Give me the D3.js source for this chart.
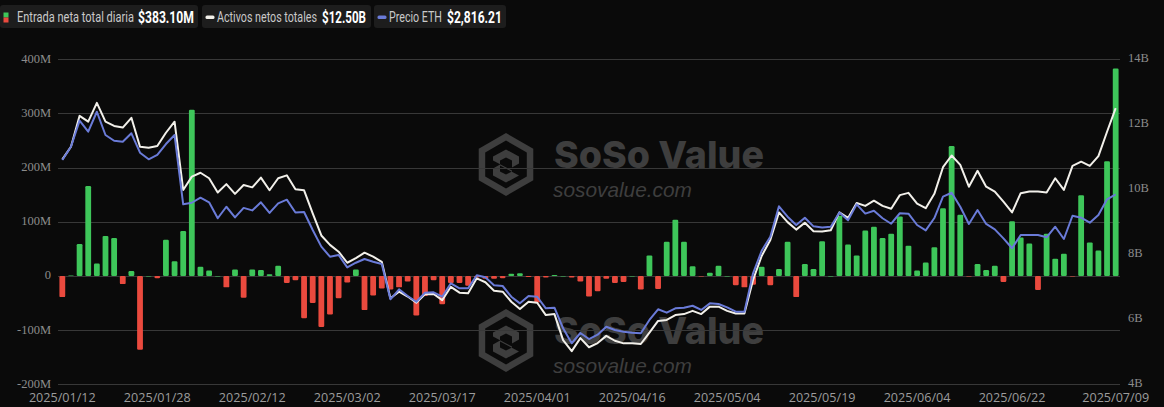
<!DOCTYPE html>
<html>
<head>
<meta charset="utf-8">
<script src="https://cdn.jsdelivr.net/npm/d3@7/dist/d3.min.js"></script>
<style>
  html, body { margin: 0; padding: 0; background: #0a0a0a; }
  svg { display: block; }
</style>
</head>
<body>
<div id="chart"></div>
<script>
// ---------------- DATA ----------------
const dates = [
"2025/01/12","2025/01/13","2025/01/14","2025/01/15","2025/01/16","2025/01/20","2025/01/21","2025/01/22","2025/01/23","2025/01/26","2025/01/27","2025/01/28","2025/01/29","2025/01/30",
"2025/02/02","2025/02/03","2025/02/04","2025/02/05","2025/02/06","2025/02/09","2025/02/10","2025/02/11","2025/02/12","2025/02/13","2025/02/17","2025/02/18","2025/02/19","2025/02/20","2025/02/23","2025/02/24","2025/02/25","2025/02/26","2025/02/27",
"2025/03/02","2025/03/03","2025/03/04","2025/03/05","2025/03/06","2025/03/09","2025/03/10","2025/03/11","2025/03/12","2025/03/13","2025/03/16","2025/03/17","2025/03/18","2025/03/19","2025/03/20","2025/03/23","2025/03/24","2025/03/25","2025/03/26","2025/03/27","2025/03/30",
"2025/03/31","2025/04/01","2025/04/02","2025/04/03","2025/04/06","2025/04/07","2025/04/08","2025/04/09","2025/04/10","2025/04/13","2025/04/14","2025/04/15","2025/04/16","2025/04/20","2025/04/21","2025/04/22","2025/04/23","2025/04/24","2025/04/27","2025/04/28","2025/04/29",
"2025/04/30","2025/05/01","2025/05/04","2025/05/05","2025/05/06","2025/05/07","2025/05/08","2025/05/11","2025/05/12","2025/05/13","2025/05/14","2025/05/15","2025/05/18","2025/05/19","2025/05/20","2025/05/21","2025/05/22","2025/05/26","2025/05/27","2025/05/28","2025/05/29",
"2025/06/01","2025/06/02","2025/06/03","2025/06/04","2025/06/05","2025/06/08","2025/06/09","2025/06/10","2025/06/11","2025/06/12","2025/06/15","2025/06/16","2025/06/17","2025/06/19","2025/06/22","2025/06/23","2025/06/24","2025/06/25","2025/06/26","2025/06/29",
"2025/06/30","2025/07/01","2025/07/02","2025/07/06","2025/07/07","2025/07/08","2025/07/09"
];

// Daily total net inflow, millions USD
const netInflow = [
-39, 1, 59, 166, 23, 74, 70, -15, 9, -136,
0, -4, 67, 27, 83, 307, 17, 10, 0, -21,
12, -40, 12, 11, 3, 19, -13, -8, -78, -50,
-94, -71, -41, -12, 12, -63, -36, -23, -25, -21,
-10, -73, -37, -8, -52, -13, -13, -18, -3, -5,
-5, -4, 4, 5, -2, -49, -3, 2, 0, -3,
-10, -38, -28, -5, -13, -11, 0, -25, 38, -24,
63, 104, 63, 18, -1, 6, 19, 0, -17, -21,
-16, 17, -17, 13, 63, -39, 22, 13, 64, 0,
111, 58, 38, 84, 91, 70, 78, 110, 56, 10,
25, 53, 125, 240, 113, -1, 22, 11, 19, -11,
101, 71, 60, -26, 78, 32, 41, -1, 149, 62,
47, 212, 383.1
];

// Total net assets, billions USD
const netAssets = [
10.92, 11.31, 12.26, 12.08, 12.66, 12.08, 11.95, 11.90, 12.20, 11.31,
11.28, 11.33, 11.74, 12.08, 9.98, 10.39, 10.51, 10.34, 9.90, 10.16,
9.86, 10.13, 10.06, 10.36, 9.97, 10.34, 10.43, 10.00, 9.97, 9.26,
8.58, 8.29, 8.08, 7.74, 7.88, 8.05, 7.93, 7.77, 6.65, 6.85,
6.70, 6.51, 6.77, 6.78, 6.59, 7.00, 6.82, 6.80, 7.26, 7.14,
6.88, 6.85, 6.54, 6.32, 6.54, 6.51, 6.13, 6.16, 5.36, 5.02,
5.42, 5.14, 5.27, 5.49, 5.34, 5.26, 5.26, 5.24, 5.59, 5.95,
5.98, 6.13, 6.16, 6.26, 6.16, 6.39, 6.39, 6.26, 6.18, 6.18,
7.21, 7.95, 8.44, 9.29, 8.99, 8.76, 8.97, 8.71, 8.70, 8.74,
9.29, 9.12, 9.58, 9.49, 9.65, 9.49, 9.40, 9.82, 9.89, 9.56,
9.42, 9.86, 10.68, 11.04, 10.75, 10.08, 10.57, 10.08, 9.93, 9.62,
9.29, 9.88, 9.93, 9.93, 9.90, 10.34, 9.98, 10.72, 10.85, 10.72,
11.02, 11.77, 12.50
];

// ETH price, USD
const ethPrice = [
3117, 3233, 3462, 3365, 3540, 3336, 3286, 3277, 3351, 3181,
3123, 3161, 3257, 3336, 2728, 2742, 2786, 2746, 2606, 2707,
2614, 2697, 2675, 2746, 2653, 2737, 2769, 2657, 2661, 2503,
2357, 2269, 2284, 2175, 2216, 2249, 2225, 2205, 1895, 1983,
1924, 1874, 1953, 1957, 1918, 2036, 1992, 1992, 2106, 2088,
2018, 2012, 1918, 1860, 1924, 1918, 1816, 1822, 1641, 1510,
1600, 1547, 1585, 1655, 1626, 1611, 1602, 1597, 1714, 1808,
1778, 1816, 1822, 1839, 1802, 1860, 1854, 1825, 1787, 1787,
2123, 2321, 2444, 2711, 2620, 2547, 2610, 2535, 2525, 2532,
2657, 2588, 2728, 2647, 2672, 2606, 2558, 2650, 2646, 2547,
2500, 2608, 2795, 2830, 2707, 2556, 2678, 2556, 2509, 2430,
2343, 2459, 2459, 2459, 2439, 2532, 2424, 2628, 2611, 2567,
2635, 2772, 2816.21
];

const xTickLabels = ["2025/01/12","2025/01/28","2025/02/12","2025/03/02","2025/03/17","2025/04/01",
  "2025/04/16","2025/05/04","2025/05/19","2025/06/04","2025/06/22","2025/07/09"];
const leftTicks = [-200, -100, 0, 100, 200, 300, 400];
const rightTicks = [4, 6, 8, 10, 12, 14];

const legendLabels = ["Entrada neta total diaria", "Activos netos totales", "Precio ETH"];
const legendValues = ["$383.10M", "$12.50B", "$2,816.21"];

// ---------------- CHART ----------------
const W = 1164, H = 407;
const plot = { left: 58, right: 1120, top: 59.3, bottom: 384.3 };
const C = {
  bg: "#0a0a0a", grid: "#383838", axisText: "#8c8c8c", xText: "#9c9c9c",
  green: "#3ec65a", red: "#ea4a3e", white: "#f2f0ea", blue: "#6a7bd8",
  legendBox: "#1d1d1d", watermark: "#3e3e3e"
};

const ctx = document.createElement("canvas").getContext("2d");
function measure(text, family, weight, style, size) {
  ctx.font = `${style} ${weight} ${size}px ${family}`;
  return ctx.measureText(text).width;
}

const svg = d3.select("#chart").append("svg").attr("width", W).attr("height", H);
svg.append("rect").attr("width", W).attr("height", H).attr("fill", C.bg);

const x = d3.scaleBand().domain(dates).range([plot.left, plot.right]).padding(0);
const cx = d => x(d) + x.bandwidth() / 2;
const yL = d3.scaleLinear().domain([-200, 400]).range([plot.bottom, plot.top]);
const yR = d3.scaleLinear().domain([4, 14]).range([plot.bottom, plot.top]);
const yE = d3.scaleLinear().domain([1150, 4000]).range([plot.bottom, plot.top]);

// ---- watermarks ----
function hexPts(cx0, cy0, r) {
  return d3.range(6).map(k => {
    const a = Math.PI / 3 * k - Math.PI / 2;
    return [cx0 + r * Math.cos(a), cy0 + r * Math.sin(a)];
  });
}
const wmFamily = "Inter, Roboto, sans-serif";
const wmSize = 40 * 210 / measure("SoSo Value", wmFamily, 800, "normal", 40);
const domFamily = "'Liberation Sans', Arial, sans-serif";
const domSize = 20 * 139 / measure("sosovalue.com", domFamily, 400, "italic", 20);
function watermark(cy0) {
  const g = svg.append("g");
  const hx = 506;
  g.append("polygon").attr("points", hexPts(hx, cy0, 31.5).join(" ")).attr("fill", C.watermark);
  g.append("polygon").attr("points", hexPts(hx, cy0, 24).join(" ")).attr("fill", C.bg);
  g.append("path")
    .attr("d", `M${hx-13},${cy0-8} L${hx},${cy0-15} L${hx+13},${cy0-8} L${hx+13},${cy0-1} L${hx+6},${cy0+3}
               L${hx+6},${cy0-4} L${hx},${cy0-7} L${hx-6},${cy0-4} L${hx-6},${cy0+1} L${hx+13},${cy0+11}
               L${hx},${cy0+18} L${hx-13},${cy0+11} L${hx-13},${cy0+4} L${hx-6},${cy0} L${hx-6},${cy0+7}
               L${hx},${cy0+10} L${hx+6},${cy0+7} L${hx+6},${cy0+6} L${hx-13},${cy0-4} Z`)
    .attr("fill", C.watermark);
  g.append("text").attr("x", 554).attr("y", cy0 + 3)
    .attr("font-family", wmFamily).attr("font-weight", 800).attr("font-size", wmSize)
    .attr("fill", C.watermark)
    .text("SoSo Value");
  g.append("text").attr("x", 553).attr("y", cy0 + 32)
    .attr("font-family", domFamily).attr("font-style", "italic").attr("font-size", domSize)
    .attr("fill", C.watermark)
    .text("sosovalue.com");
}
watermark(164.5);
watermark(340.5);

// ---- grid + axes ----
svg.append("g").selectAll("line").data(leftTicks).join("line")
  .attr("x1", plot.left).attr("x2", plot.right)
  .attr("y1", d => Math.round(yL(d)) + 0.5).attr("y2", d => Math.round(yL(d)) + 0.5)
  .attr("stroke", C.grid).attr("stroke-width", 1);

svg.append("g").selectAll("text").data(leftTicks).join("text")
  .attr("x", 51).attr("y", d => yL(d) + 3.5)
  .attr("text-anchor", "end")
  .attr("font-family", "'Liberation Serif', serif").attr("font-size", 12.5)
  .attr("fill", C.axisText)
  .text(d => d === 0 ? "0" : d + "M");

svg.append("g").selectAll("text").data(rightTicks).join("text")
  .attr("x", 1128).attr("y", d => yR(d) + 3)
  .attr("text-anchor", "start")
  .attr("font-family", "'Liberation Serif', serif").attr("font-size", 12.5)
  .attr("fill", C.axisText)
  .text(d => d + "B");

svg.append("g").selectAll("text").data(xTickLabels).join("text")
  .attr("x", d => cx(d)).attr("y", 402)
  .attr("text-anchor", "middle")
  .attr("font-family", "'Open Sans', sans-serif").attr("font-size", 12.6)
  .attr("fill", C.xText)
  .text(d => d);

// ---- bars ----
const barW = 5.8;
svg.append("g").selectAll("rect").data(dates).join("rect")
  .attr("x", d => cx(d) - barW / 2)
  .attr("width", barW)
  .attr("y", (d, i) => Math.min(yL(netInflow[i]), yL(0)))
  .attr("height", (d, i) => Math.max(0.6, Math.abs(yL(netInflow[i]) - yL(0))))
  .attr("rx", 1.2)
  .attr("fill", (d, i) => netInflow[i] >= 0 ? C.green : C.red);

// ---- lines ----
const lineAssets = d3.line().x((d, i) => cx(dates[i])).y(d => yR(d));
const lineEth = d3.line().x((d, i) => cx(dates[i])).y(d => yE(d));
svg.append("path").datum(netAssets).attr("d", lineAssets)
  .attr("fill", "none").attr("stroke", C.white).attr("stroke-width", 2).attr("stroke-linejoin", "round");
svg.append("path").datum(ethPrice).attr("d", lineEth)
  .attr("fill", "none").attr("stroke", C.blue).attr("stroke-width", 2).attr("stroke-linejoin", "round");

// ---- legend (condensed via horizontal scaling) ----
const legFamily = "Roboto, sans-serif";
const boxes = [
  { x: 0, w: 198, textX: 17, textW: 117, valX: 138, valW: 56 },
  { x: 202, w: 169, textX: 217, textW: 100, valX: 322, valW: 44 },
  { x: 374, w: 132, textX: 389, textW: 53, valX: 447, valW: 55 }
];
const gLeg = svg.append("g");
legendLabels.forEach((label, k) => {
  const b = boxes[k];
  gLeg.append("rect").attr("x", b.x).attr("y", 5).attr("width", b.w).attr("height", 23)
    .attr("rx", 3).attr("fill", C.legendBox);
  if (k === 0) {
    gLeg.append("rect").attr("x", 3.5).attr("y", 12.5).attr("width", 5).attr("height", 5).attr("fill", C.green);
    gLeg.append("rect").attr("x", 3.5).attr("y", 17.5).attr("width", 5).attr("height", 5).attr("fill", C.red);
  } else {
    gLeg.append("rect").attr("x", b.x + 3.5).attr("y", 15.5).attr("width", 9).attr("height", 3.5)
      .attr("rx", 1.5).attr("fill", k === 1 ? C.white : C.blue);
  }
  const ls = 13.8;
  const lsx = b.textW / measure(label, legFamily, 400, "normal", ls);
  gLeg.append("text").attr("transform", `translate(${b.textX},22) scale(${lsx},1)`)
    .attr("font-family", legFamily).attr("font-size", ls)
    .attr("fill", "#c9c9c9")
    .text(label);
  const vs = 16;
  const vsx = b.valW / measure(legendValues[k], legFamily, 700, "normal", vs);
  gLeg.append("text").attr("transform", `translate(${b.valX},22.6) scale(${vsx},1)`)
    .attr("font-family", legFamily).attr("font-weight", 700).attr("font-size", vs)
    .attr("fill", "#ffffff")
    .text(legendValues[k]);
});
</script>
</body>
</html>
